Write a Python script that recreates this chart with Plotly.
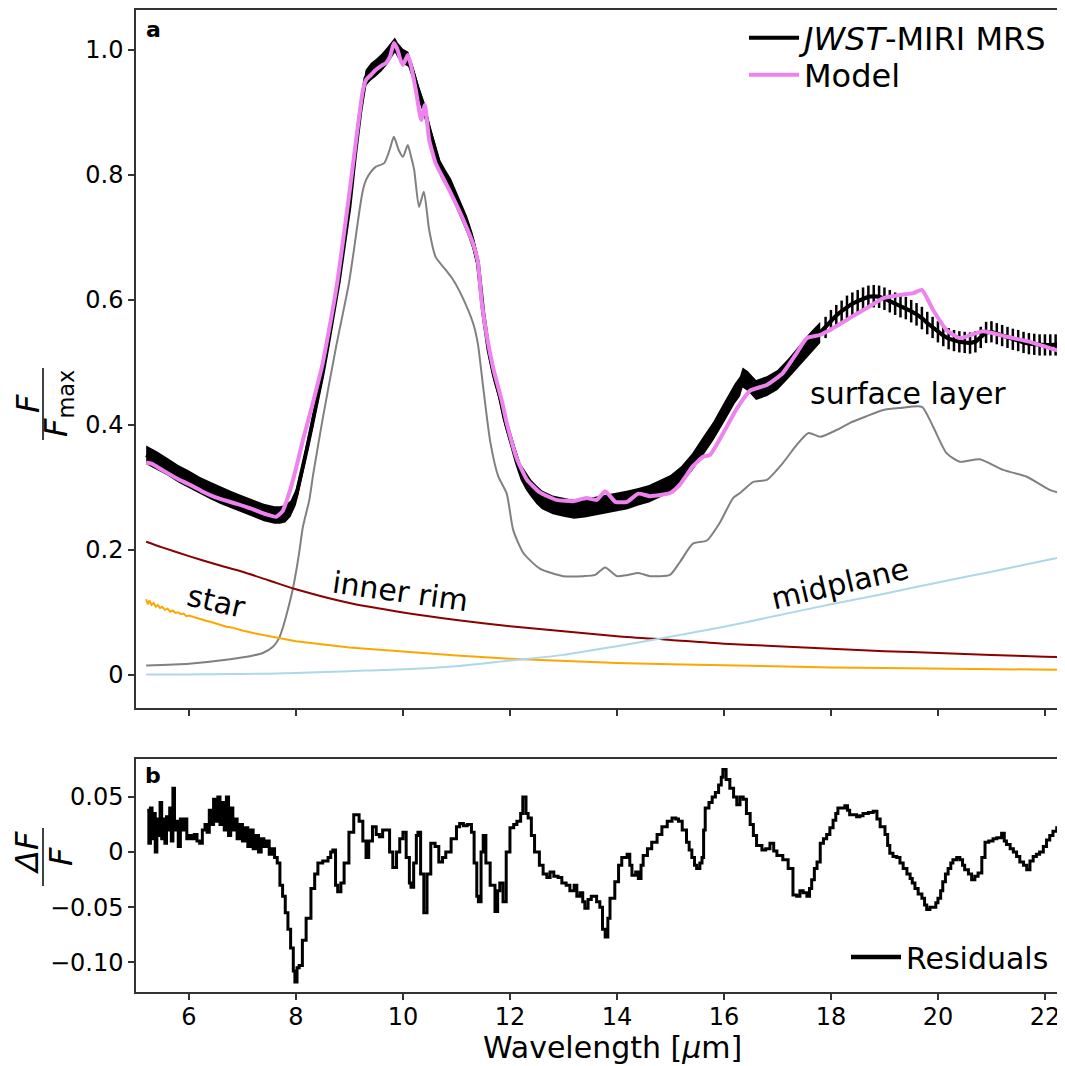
import plotly.graph_objects as go

# ---------------- data ----------------
# JWST data, densely sampled part (drawn as a filled error band)
wl_dense = [5.2, 5.4, 5.6, 5.8, 6.0, 6.2, 6.4, 6.6, 6.8, 7.0, 7.2, 7.4, 7.6,
            7.7, 7.8, 7.9, 8.0, 8.1, 8.2, 8.3, 8.4, 8.5, 8.6, 8.7, 8.8, 8.9, 9.0, 9.1, 9.2, 9.3, 9.4,
            9.5, 9.6, 9.7, 9.8,
            9.85, 9.9,
            10.0, 10.1, 10.2, 10.3, 10.4, 10.5, 10.6, 10.7, 10.8, 10.9, 11.0, 11.1, 11.2, 11.3, 11.4,
            11.5, 11.6, 11.7, 11.8, 11.9, 12.0, 12.1, 12.2, 12.3, 12.4, 12.5, 12.6,
            12.8, 13.0, 13.2, 13.4, 13.6, 13.8, 14.0, 14.2, 14.4, 14.6, 14.8, 15.0, 15.2, 15.4, 15.6,
            15.8, 16.0, 16.2,
            16.3, 16.35, 16.45, 16.6,
            16.8, 17.0, 17.2, 17.4, 17.6, 17.8]
flux_dense = [0.352, 0.343, 0.333, 0.322, 0.313, 0.303, 0.295, 0.287, 0.280, 0.273, 0.266, 0.260, 0.256,
              0.256, 0.258, 0.266, 0.285, 0.320, 0.360, 0.400, 0.440, 0.483, 0.530, 0.580, 0.630, 0.690,
              0.750, 0.830, 0.900, 0.955, 0.965, 0.972, 0.980, 0.990, 1.003,
              1.008, 1.000,
              0.990, 0.985, 0.960, 0.930, 0.905, 0.870, 0.840, 0.810, 0.795, 0.780, 0.760, 0.740, 0.720,
              0.695, 0.660, 0.580, 0.520, 0.480, 0.450, 0.410, 0.380, 0.350, 0.325, 0.310, 0.298, 0.288,
              0.280,
              0.272, 0.268, 0.265, 0.267, 0.270, 0.273, 0.277, 0.280, 0.285, 0.290, 0.298, 0.306, 0.320,
              0.340, 0.365, 0.390, 0.420, 0.450,
              0.462, 0.476, 0.470, 0.456,
              0.462, 0.472, 0.490, 0.510, 0.530, 0.548]
err_dense = [0.015, 0.015, 0.014, 0.014, 0.014, 0.014, 0.014, 0.014, 0.014, 0.014, 0.014, 0.014, 0.014,
             0.014, 0.014, 0.013, 0.013, 0.012, 0.012, 0.012, 0.012, 0.012, 0.012, 0.012, 0.012, 0.012,
             0.012, 0.012, 0.012, 0.013, 0.014, 0.014, 0.014, 0.014, 0.013,
             0.012, 0.012,
             0.012, 0.012, 0.012, 0.012, 0.012, 0.012, 0.012, 0.013, 0.013, 0.014, 0.014, 0.014, 0.014,
             0.013, 0.013, 0.012, 0.012, 0.012, 0.012, 0.012, 0.012, 0.013, 0.013, 0.014, 0.014, 0.015,
             0.015,
             0.015, 0.015, 0.015, 0.015, 0.015, 0.015, 0.015, 0.015, 0.014, 0.014, 0.014, 0.014, 0.014,
             0.014, 0.015, 0.015, 0.016, 0.016,
             0.016, 0.016, 0.016, 0.016,
             0.016, 0.016, 0.016, 0.017, 0.017, 0.017]

# JWST data, sparsely sampled part (drawn with individual error bars)
wl_sparse = [17.9, 18.0, 18.1, 18.2, 18.3, 18.4, 18.5, 18.6, 18.7, 18.8, 18.9,
             19.0, 19.1, 19.2, 19.3, 19.4, 19.5, 19.6, 19.7, 19.8, 19.9,
             20.0, 20.1, 20.2, 20.3, 20.4, 20.5, 20.6, 20.7, 20.8, 20.9,
             21.0, 21.1, 21.2, 21.3, 21.4, 21.5, 21.6, 21.7, 21.8, 21.9,
             22.0, 22.1, 22.2, 22.3, 22.4]
flux_sparse = [0.556, 0.567, 0.575, 0.582, 0.589, 0.594, 0.598, 0.602, 0.605, 0.606, 0.605,
               0.602, 0.598, 0.594, 0.590, 0.587, 0.582, 0.577, 0.571, 0.563, 0.556,
               0.549, 0.543, 0.538, 0.535, 0.533, 0.532, 0.531, 0.533, 0.540, 0.548,
               0.549, 0.546, 0.543, 0.540, 0.537, 0.535, 0.532, 0.530, 0.529, 0.528,
               0.528, 0.528, 0.528, 0.529, 0.530]
err_sparse = [0.017, 0.017, 0.017, 0.017, 0.018, 0.018, 0.018, 0.018, 0.018, 0.018, 0.018,
              0.018, 0.018, 0.018, 0.018, 0.018, 0.018, 0.018, 0.018, 0.018, 0.017,
              0.017, 0.017, 0.017, 0.017, 0.017, 0.017, 0.017, 0.017, 0.017, 0.017,
              0.017, 0.017, 0.017, 0.017, 0.017, 0.017, 0.017, 0.017, 0.017, 0.017,
              0.017, 0.017, 0.017, 0.017, 0.017]

# Model
wl_model = [5.2, 5.3, 5.5, 5.8, 6.0, 6.26, 6.5, 6.88, 7.2, 7.44, 7.63, 7.75, 7.87, 8.0, 8.13, 8.3,
            8.5, 8.75, 8.99, 9.1, 9.18, 9.25, 9.31, 9.4, 9.49, 9.6, 9.68, 9.76, 9.83, 9.9, 9.95,
            10.0, 10.09, 10.15, 10.24, 10.34, 10.41, 10.49, 10.61, 10.69, 10.8, 10.94, 11.12, 11.31,
            11.40, 11.47, 11.57, 11.69, 11.85, 11.94, 12.13, 12.32, 12.56, 12.87, 13.18, 13.43,
            13.62, 13.78, 13.97, 14.19, 14.40, 14.62, 14.99, 15.18, 15.42, 15.61, 15.74, 15.98,
            16.24, 16.49, 16.80, 17.1, 17.36, 17.55, 17.8, 18.04, 18.35, 18.67, 18.98, 19.29,
            19.54, 19.70, 19.91, 20.16, 20.41, 20.84, 21.29, 21.72, 22.09, 22.4]
flux_model = [0.340, 0.338, 0.328, 0.313, 0.305, 0.293, 0.284, 0.274, 0.265, 0.257, 0.253, 0.262,
              0.290, 0.330, 0.376, 0.430, 0.499, 0.616, 0.765, 0.840, 0.893, 0.935, 0.952, 0.960,
              0.968, 0.975, 0.979, 0.990, 1.011, 1.000, 0.985, 0.976, 0.992, 0.975, 0.936, 0.888,
              0.912, 0.856, 0.819, 0.805, 0.787, 0.763, 0.730, 0.690, 0.661, 0.598, 0.541, 0.490,
              0.438, 0.403, 0.346, 0.312, 0.292, 0.280, 0.278, 0.283, 0.280, 0.294, 0.277, 0.277,
              0.290, 0.286, 0.291, 0.305, 0.334, 0.349, 0.352, 0.386, 0.426, 0.455, 0.464, 0.483,
              0.515, 0.539, 0.544, 0.555, 0.571, 0.587, 0.603, 0.608, 0.611, 0.616, 0.584, 0.552,
              0.539, 0.550, 0.541, 0.533, 0.523, 0.515]

# Model components
wl_comp = [5.2, 5.5, 6.0, 6.5, 7.0, 7.5, 8.0, 9.0, 10.0, 11.0, 12.0, 13.0, 14.0, 15.0, 16.0,
           17.0, 18.0, 19.0, 20.0, 21.0, 22.0, 22.4]
inner_rim = [0.213, 0.204, 0.190, 0.177, 0.165, 0.151, 0.137, 0.115, 0.100, 0.088, 0.078, 0.070,
             0.062, 0.056, 0.050, 0.046, 0.042, 0.038, 0.035, 0.032, 0.029, 0.028]
midplane = [0.0005, 0.0006, 0.0008, 0.001, 0.0015, 0.002, 0.003, 0.006, 0.009, 0.014, 0.023,
            0.032, 0.046, 0.061, 0.077, 0.095, 0.113, 0.130, 0.148, 0.165, 0.183, 0.190]

wl_star = [5.2, 5.23, 5.26, 5.3, 5.34, 5.38, 5.42, 5.46, 5.5, 5.55, 5.6, 5.65, 5.7, 5.75, 5.8, 5.85,
           5.9, 5.95, 6.0, 6.1, 6.2, 6.3, 6.4, 6.5, 6.6, 6.7, 6.8, 6.9, 7.0, 7.2, 7.5, 8.0, 9.0,
           10.0, 11.0, 12.0, 13.0, 14.0, 15.0, 16.0, 17.0, 18.0, 19.0, 20.0, 21.0, 22.0, 22.4]
star = [0.121, 0.113, 0.119, 0.112, 0.115, 0.109, 0.112, 0.107, 0.109, 0.104, 0.106, 0.101, 0.103,
        0.099, 0.100, 0.097, 0.098, 0.094, 0.095, 0.092, 0.090, 0.087, 0.085, 0.082, 0.080, 0.077,
        0.076, 0.073, 0.071, 0.067, 0.062, 0.054, 0.044, 0.037, 0.031, 0.026, 0.022, 0.019, 0.017,
        0.015, 0.013, 0.012, 0.011, 0.010, 0.009, 0.008, 0.008]

wl_surf = [5.2, 6.0, 6.77, 7.2, 7.38, 7.57, 7.68, 7.76, 7.85, 7.95, 8.05, 8.13, 8.25, 8.32, 8.5,
           8.75, 8.99, 9.1, 9.18, 9.25, 9.31, 9.4, 9.49, 9.65, 9.75, 9.83, 9.92, 10.0, 10.09, 10.15,
           10.21, 10.30, 10.39, 10.49, 10.61, 10.8, 10.94, 11.12, 11.31, 11.40, 11.50, 11.63, 11.78,
           11.94, 12.06, 12.25, 12.56, 13.0, 13.37, 13.59, 13.78, 14.0, 14.2, 14.40, 14.62, 14.99,
           15.18, 15.42, 15.68, 15.92, 16.17, 16.3, 16.55, 16.80, 17.1, 17.36, 17.58, 17.80, 18.11,
           18.35, 18.67, 18.98, 19.29, 19.70, 19.91, 20.16, 20.41, 20.78, 21.22, 21.66, 22.09, 22.4]
surface = [0.015, 0.018, 0.025, 0.031, 0.035, 0.045, 0.058, 0.077, 0.105, 0.141, 0.190, 0.237,
           0.280, 0.320, 0.410, 0.525, 0.627, 0.690, 0.739, 0.775, 0.792, 0.805, 0.813, 0.819, 0.840,
           0.861, 0.840, 0.829, 0.848, 0.830, 0.808, 0.749, 0.773, 0.712, 0.669, 0.648, 0.632, 0.603,
           0.563, 0.530, 0.460, 0.374, 0.318, 0.290, 0.232, 0.195, 0.170, 0.158, 0.158, 0.160, 0.172,
           0.158, 0.160, 0.163, 0.158, 0.160, 0.181, 0.210, 0.215, 0.243, 0.283, 0.291, 0.309, 0.312,
           0.339, 0.368, 0.387, 0.381, 0.392, 0.403, 0.414, 0.424, 0.427, 0.429, 0.397, 0.355, 0.341,
           0.345, 0.328, 0.317, 0.296, 0.288]

# Residuals
wl_res = [5.22, 5.25, 5.28, 5.31, 5.34, 5.37, 5.40, 5.43, 5.46, 5.49, 5.52, 5.55, 5.58, 5.61, 5.64,
          5.67, 5.70, 5.73, 5.76, 5.80, 5.84, 5.88, 5.92, 5.96, 6.0, 6.05, 6.1, 6.15, 6.2, 6.25, 6.3,
          6.34, 6.38, 6.42, 6.46, 6.5, 6.54, 6.58, 6.62, 6.66, 6.7, 6.74, 6.78, 6.82, 6.86, 6.9, 6.95,
          7.0, 7.05, 7.1, 7.15, 7.2, 7.25, 7.3, 7.35, 7.4, 7.45, 7.5, 7.55, 7.6, 7.65, 7.7, 7.75, 7.8,
          7.85, 7.9, 7.95, 7.98, 8.02, 8.06, 8.12, 8.19, 8.28, 8.35, 8.41, 8.5, 8.6, 8.65, 8.69, 8.74,
          8.78, 8.84, 8.9, 8.99, 9.08, 9.18, 9.25, 9.31, 9.36, 9.43, 9.5, 9.56, 9.62, 9.68, 9.75, 9.81,
          9.88, 9.94, 10.0, 10.06, 10.12, 10.15, 10.2, 10.25, 10.28, 10.33, 10.39, 10.45, 10.52, 10.6,
          10.67, 10.74, 10.8, 10.9, 11.0, 11.06, 11.13, 11.2, 11.28, 11.33, 11.38, 11.41, 11.46, 11.5,
          11.55, 11.63, 11.72, 11.77, 11.81, 11.87, 11.93, 12.0, 12.07, 12.13, 12.2, 12.24, 12.3,
          12.34, 12.4, 12.46, 12.55, 12.62, 12.69, 12.75, 12.82, 12.9, 12.97, 13.05, 13.12, 13.2,
          13.25, 13.31, 13.36, 13.4, 13.46, 13.52, 13.56, 13.62, 13.68, 13.73, 13.78, 13.83, 13.87,
          13.96, 14.03, 14.09, 14.19, 14.24, 14.28, 14.35, 14.4, 14.45, 14.49, 14.57, 14.65, 14.75,
          14.84, 14.94, 15.03, 15.1, 15.15, 15.22, 15.3, 15.35, 15.4, 15.45, 15.49, 15.55, 15.59,
          15.62, 15.65, 15.72, 15.78, 15.84, 15.9, 15.95, 15.98, 16.04, 16.11, 16.18, 16.24, 16.3,
          16.36, 16.42, 16.49, 16.55, 16.61, 16.71, 16.78, 16.86, 16.93, 16.99, 17.1, 17.2, 17.29,
          17.36, 17.42, 17.48, 17.55, 17.6, 17.64, 17.69, 17.74, 17.8, 17.86, 17.92, 17.98, 18.04,
          18.09, 18.13, 18.2, 18.26, 18.31, 18.35, 18.42, 18.48, 18.54, 18.6, 18.7, 18.79, 18.86,
          18.92, 19.01, 19.06, 19.1, 19.16, 19.23, 19.29, 19.35, 19.42, 19.48, 19.52, 19.57, 19.63,
          19.7, 19.75, 19.79, 19.85, 19.91, 19.96, 20.0, 20.05, 20.09, 20.14, 20.19, 20.24, 20.28,
          20.35, 20.41, 20.46, 20.5, 20.57, 20.63, 20.69, 20.75, 20.82, 20.88, 20.95, 21.03, 21.1,
          21.19, 21.24, 21.28, 21.35, 21.41, 21.47, 21.53, 21.6, 21.66, 21.72, 21.78, 21.84, 21.9,
          21.97, 22.03, 22.09, 22.15, 22.22, 22.28, 22.34, 22.4]
residuals = [0.038, 0.008, 0.040, 0.012, 0.035, 0.000, 0.030, 0.015, 0.045, 0.012, 0.030, 0.008,
             0.032, 0.020, 0.040, 0.010, 0.058, 0.020, 0.028, 0.005, 0.030, 0.020, 0.030, 0.012,
             0.015, 0.012, 0.016, 0.010, 0.008, 0.020, 0.025, 0.018, 0.038, 0.025, 0.048, 0.028,
             0.050, 0.025, 0.045, 0.020, 0.050, 0.015, 0.040, 0.020, 0.030, 0.012, 0.025, 0.010,
             0.022, 0.005, 0.020, 0.003, 0.015, 0.000, 0.012, 0.005, 0.010, -0.002, 0.003, -0.005,
             -0.010, -0.030, -0.040, -0.055, -0.070, -0.087, -0.108, -0.118, -0.105, -0.103, -0.080,
             -0.060, -0.033, -0.020, -0.010, -0.008, -0.005, 0.000, 0.002, -0.030, -0.036, -0.028,
             -0.010, 0.018, 0.034, 0.028, 0.010, -0.005, 0.010, 0.023, 0.016, 0.014, 0.020, 0.020,
             0.000, -0.014, 0.000, 0.012, 0.018, -0.005, -0.028, -0.032, -0.010, 0.015, 0.018,
             -0.020, -0.055, -0.020, 0.008, 0.005, -0.009, -0.005, 0.000, 0.012, 0.023, 0.026, 0.024,
             0.025, 0.018, -0.010, -0.040, -0.045, 0.000, 0.015, -0.010, -0.030, -0.054, -0.035,
             -0.028, -0.045, 0.000, 0.022, 0.025, 0.028, 0.035, 0.050, 0.035, 0.031, 0.015, 0.000,
             -0.012, -0.020, -0.023, -0.018, -0.022, -0.023, -0.028, -0.030, -0.035, -0.030, -0.040,
             -0.037, -0.045, -0.051, -0.043, -0.040, -0.040, -0.045, -0.050, -0.070, -0.077, -0.060,
             -0.042, -0.027, -0.012, -0.005, -0.002, -0.012, -0.021, -0.018, -0.024, -0.012, -0.003,
             0.003, 0.009, 0.016, 0.023, 0.028, 0.031, 0.030, 0.028, 0.020, 0.009, 0.002, -0.005,
             -0.012, -0.015, -0.010, -0.005, 0.020, 0.040, 0.045, 0.050, 0.054, 0.061, 0.068, 0.075,
             0.066, 0.058, 0.050, 0.043, 0.050, 0.048, 0.035, 0.025, 0.015, 0.006, 0.002, 0.003,
             0.008, 0.001, -0.003, -0.007, -0.015, -0.039, -0.040, -0.035, -0.037, -0.040, -0.033,
             -0.025, -0.015, -0.009, 0.008, 0.012, 0.016, 0.022, 0.029, 0.035, 0.040, 0.040, 0.042,
             0.038, 0.034, 0.034, 0.032, 0.033, 0.035, 0.036, 0.037, 0.030, 0.023, 0.016, 0.006,
             -0.001, -0.004, -0.005, -0.010, -0.015, -0.020, -0.024, -0.028, -0.033, -0.038, -0.042,
             -0.048, -0.052, -0.050, -0.050, -0.046, -0.042, -0.035, -0.027, -0.020, -0.015, -0.010,
             -0.007, -0.005, -0.007, -0.012, -0.016, -0.020, -0.025, -0.022, -0.019, -0.005, 0.009,
             0.010, 0.012, 0.013, 0.017, 0.010, 0.007, 0.003, 0.000, -0.004, -0.009, -0.012, -0.016,
             -0.008, -0.004, -0.002, 0.000, 0.005, 0.011, 0.015, 0.019, 0.022, 0.029, 0.031, 0.032]

y_ticks_top = [0, 0.2, 0.4, 0.6, 0.8, 1.0]
y_ticktext_top = ["0", "0.2", "0.4", "0.6", "0.8", "1.0"]
y_ticks_bot = [0.05, 0, -0.05, -0.10]
y_ticktext_bot = ["0.05", "0", "\u22120.05", "\u22120.10"]
x_ticks = [6, 8, 10, 12, 14, 16, 18, 20, 22]

# ---------------- layout helpers ----------------
# the page body adds an 8 px offset; the figure is shrunk by that amount
OFF = 8
W, H = 1065 - OFF, 1066 - OFF
ML, MR, MT = 136 - OFF, 0, 10 - OFF
MB = H - (992 - OFF)
FONT = "DejaVu Sans"


def px(x):
    """reference pixel x -> paper x"""
    return (x - OFF - ML) / (W - ML - MR)


def py(y):
    """reference pixel y -> paper y"""
    return (H - MB - (y - OFF)) / (H - MT - MB)


fig = go.Figure()

# error band for densely sampled data
lower = [f - e for f, e in zip(flux_dense, err_dense)]
upper = [f + e for f, e in zip(flux_dense, err_dense)]
fig.add_trace(go.Scatter(x=wl_dense, y=lower, mode="lines", line=dict(width=0, color="black"),
                         showlegend=False, hoverinfo="skip", xaxis="x", yaxis="y"))
fig.add_trace(go.Scatter(x=wl_dense, y=upper, mode="lines", line=dict(width=0, color="black"),
                         fill="tonexty", fillcolor="black", showlegend=False, hoverinfo="skip",
                         xaxis="x", yaxis="y"))
# error bars for sparsely sampled data
fig.add_trace(go.Scatter(x=wl_sparse, y=flux_sparse, mode="lines", line=dict(width=3, color="black"),
                         error_y=dict(type="data", array=err_sparse, visible=True, color="black",
                                      thickness=2.5, width=0),
                         showlegend=False, xaxis="x", yaxis="y"))
# data line (legend entry)
fig.add_trace(go.Scatter(x=wl_dense + wl_sparse, y=flux_dense + flux_sparse, mode="lines",
                         line=dict(width=4, color="black"), name="<i>JWST</i>-MIRI MRS",
                         legend="legend", xaxis="x", yaxis="y"))

# components
fig.add_trace(go.Scatter(x=wl_surf, y=surface, mode="lines",
                         line=dict(width=2, color="gray", shape="spline", smoothing=0.6),
                         showlegend=False, xaxis="x", yaxis="y"))
fig.add_trace(go.Scatter(x=wl_comp, y=inner_rim, mode="lines",
                         line=dict(width=2, color="darkred", shape="spline", smoothing=0.8),
                         showlegend=False, xaxis="x", yaxis="y"))
fig.add_trace(go.Scatter(x=wl_star, y=star, mode="lines",
                         line=dict(width=2, color="orange"),
                         showlegend=False, xaxis="x", yaxis="y"))
fig.add_trace(go.Scatter(x=wl_comp, y=midplane, mode="lines",
                         line=dict(width=2, color="lightblue", shape="spline", smoothing=0.8),
                         showlegend=False, xaxis="x", yaxis="y"))
# model
fig.add_trace(go.Scatter(x=wl_model, y=flux_model, mode="lines",
                         line=dict(width=4, color="violet", shape="spline", smoothing=0.5),
                         name="Model", legend="legend3", xaxis="x", yaxis="y"))

# residuals
fig.add_trace(go.Scatter(x=wl_res, y=residuals, mode="lines",
                         line=dict(width=3, color="black", shape="hv"),
                         showlegend=False, xaxis="x2", yaxis="y2"))
# legend proxy with a thicker line sample
fig.add_trace(go.Scatter(x=[None], y=[None], mode="lines", line=dict(width=4.5, color="black"),
                         name="Residuals", legend="legend2", xaxis="x2", yaxis="y2"))

axis_common = dict(showline=True, linecolor="#333333", linewidth=1.5, mirror=True,
                   ticks="outside", ticklen=6, tickwidth=1.5, tickcolor="#333333",
                   showgrid=False, zeroline=False,
                   tickfont=dict(family=FONT, size=24, color="black"))

leg_common = dict(xanchor="left", yanchor="middle", bgcolor="rgba(0,0,0,0)", itemwidth=50)

fig.update_layout(
    width=W, height=H,
    margin=dict(l=ML, r=MR, t=MT, b=MB, autoexpand=False),
    paper_bgcolor="white", plot_bgcolor="white",
    font=dict(family=FONT, color="black"),
    xaxis=dict(domain=[0, 1], anchor="y", range=[5.01, 22.375], tickvals=x_ticks,
               showticklabels=False, matches="x2", **axis_common),
    yaxis=dict(domain=[py(708), 1], anchor="x", range=[-0.053, 1.064], tickvals=y_ticks_top,
               ticktext=y_ticktext_top, **axis_common),
    xaxis2=dict(domain=[0, 1], anchor="y2", range=[5.01, 22.375], tickvals=x_ticks,
                ticktext=[str(t) for t in x_ticks], ticklabelstandoff=-4, **axis_common),
    yaxis2=dict(domain=[0, py(759)], anchor="x2", range=[-0.127, 0.0845], tickvals=y_ticks_bot,
                ticktext=y_ticktext_bot, **axis_common),
    legend=dict(x=px(744), y=py(38), font=dict(family=FONT, size=32, color="black"), **leg_common),
    legend3=dict(x=px(744), y=py(75), font=dict(family=FONT, size=32, color="black"), **leg_common),
    legend2=dict(x=px(846), y=py(957), font=dict(family=FONT, size=30, color="black"), **leg_common),
)

ann = []


def add_paper_text(text, x, y, size, angle=0):
    ann.append(dict(text=text, x=px(x), y=py(y), xref="paper", yref="paper", showarrow=False,
                    xanchor="center", yanchor="middle", textangle=angle,
                    font=dict(family=FONT, size=size, color="black")))


# panel labels
add_paper_text("<b>a</b>", 153, 30, 22)
add_paper_text("<b>b</b>", 153, 775, 22)
# component labels (data coordinates)
lab_font = dict(family=FONT, size=30, color="black")
for txt, lx, ly, ang in [("star", 6.52, 0.117, 13), ("inner rim", 9.96, 0.133, 8),
                         ("midplane", 18.17, 0.147, -13), ("surface layer", 19.44, 0.451, 0)]:
    ann.append(dict(text=txt, x=lx, y=ly, xref="x", yref="y", showarrow=False, textangle=ang,
                    xanchor="center", yanchor="middle", font=lab_font))
# x axis title
add_paper_text("Wavelength [<i>\u03bc</i>m]", 612, 1047, 30)
# y axis titles (fractions)
add_paper_text("<i>F</i>", 28, 404, 32, angle=-90)
add_paper_text("<i>F</i><sub>max</sub>", 58, 404, 32, angle=-90)
add_paper_text("<i>\u0394F</i>", 27, 853, 32, angle=-90)
add_paper_text("<i>F</i>", 61, 857, 32, angle=-90)
fig.update_layout(annotations=ann)

fig.add_shape(type="line", xref="paper", yref="paper", x0=px(43), x1=px(43), y0=py(440), y1=py(368),
              line=dict(color="black", width=1.5))
fig.add_shape(type="line", xref="paper", yref="paper", x0=px(43), x1=px(43), y0=py(886), y1=py(828),
              line=dict(color="black", width=1.5))

fig.write_html("out.html")
